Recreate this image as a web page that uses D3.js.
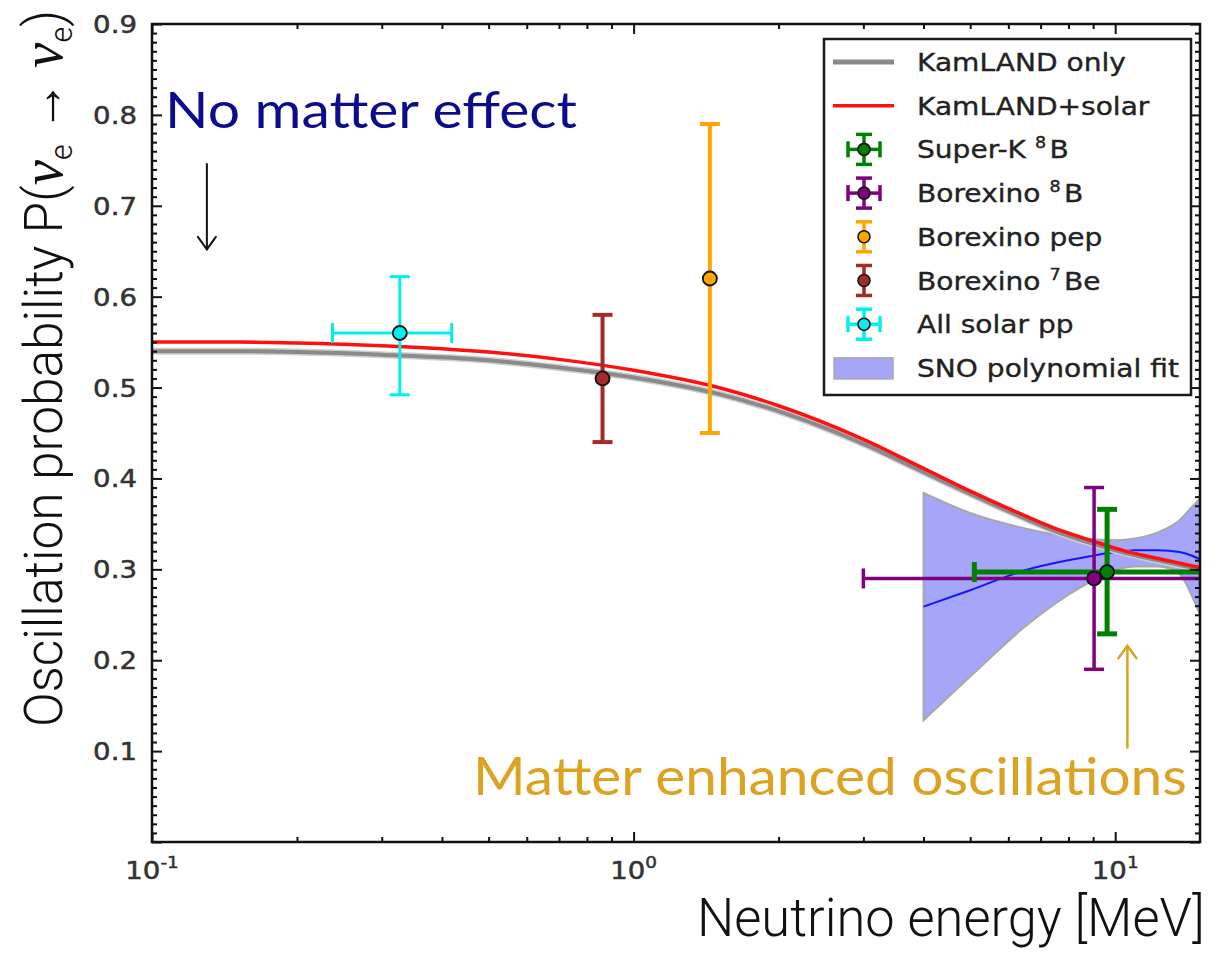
<!DOCTYPE html>
<html>
<head>
<meta charset="utf-8">
<script src="https://cdn.jsdelivr.net/npm/d3@7"></script>
<style>
  body { margin: 0; background: #fff; }
  svg { display: block; }
</style>
</head>
<body>
<svg id="chart" width="1231" height="953"></svg>
<script>
// ---- data (energies in MeV, probabilities P(nu_e -> nu_e)) ----
const curveEnergy   = [0.1, 0.15, 0.2, 0.3, 0.5, 0.7, 1.0, 1.5, 2.0, 3.0, 4.0, 5.0, 6.0, 7.5, 9.0, 10.5, 12.0, 15.0];
const kamlandSolar  = [0.550, 0.550, 0.549, 0.546, 0.539, 0.531, 0.519, 0.500, 0.480, 0.443, 0.411, 0.386, 0.367, 0.345, 0.331, 0.320, 0.313, 0.302];
const kamlandOnly   = [0.540, 0.540, 0.539, 0.536, 0.530, 0.522, 0.511, 0.493, 0.474, 0.438, 0.407, 0.383, 0.364, 0.342, 0.328, 0.318, 0.311, 0.300];

const snoEnergy  = [4.0, 5.0, 6.5, 8.0, 9.0, 10.0, 11.0, 12.3, 13.6, 14.45, 15.0];
const snoUpper   = [0.384, 0.362, 0.345, 0.336, 0.333, 0.332, 0.334, 0.341, 0.354, 0.369, 0.378];
const snoLower   = [0.134, 0.182, 0.237, 0.272, 0.288, 0.299, 0.303, 0.303, 0.295, 0.270, 0.250];
const snoCentral = [0.259, 0.277, 0.299, 0.310, 0.315, 0.319, 0.321, 0.321, 0.319, 0.315, 0.311];

const pointNames      = ["All solar pp", "Borexino 7Be", "Borexino pep", "Borexino 8B", "Super-K 8B"];
const pointEnergy     = [0.327, 0.862, 1.44, 9.04, 9.62];
const pointProb       = [0.560, 0.510, 0.620, 0.290, 0.297];
const pointErrLow     = [0.068, 0.070, 0.170, 0.100, 0.068];
const pointErrHigh    = [0.062, 0.070, 0.170, 0.100, 0.069];
const pointEnergyLow  = [0.237, null, null, 3.0, 5.1];
const pointEnergyHigh = [0.419, null, null, 20.0, 20.0];
const pointColors     = ["#00f0f0", "#a52a2a", "#ffa500", "#800080", "#008000"];
const pointWidths     = [3, 4, 4, 3.5, 5];

const yMajorTicks  = [0, 0.1, 0.2, 0.3, 0.4, 0.5, 0.6, 0.7, 0.8, 0.9];
const yTickLabels  = ["", "0.1", "0.2", "0.3", "0.4", "0.5", "0.6", "0.7", "0.8", "0.9"];
const xMajorTicks  = [0.1, 1, 10];
const xTickExponents = ["-1", "0", "1"];

const legendLabels = ["KamLAND only", "KamLAND+solar", "Super-K {8}B", "Borexino {8}B",
                      "Borexino pep", "Borexino {7}Be", "All solar pp", "SNO polynomial fit"];
const legendKinds  = ["line", "line", "errxy", "errxy", "erry", "erry", "errxy", "patch"];
const legendColors = ["#8a8a8a", "#ff1010", "#008000", "#800080", "#ffa500", "#a52a2a", "#00f0f0", "#a6a6f8"];

// annotation arrows, in data units
const arrowNoMatter = {e: 0.130, from: 0.746, to: 0.652};
const arrowMatter   = {e: 10.6, from: 0.104, to: 0.216};

// ---- layout ----
const plot = {left: 152, right: 1200, top: 24, bottom: 842};
const svg = d3.select("#chart");

const x = d3.scaleLog().domain([0.1, 15]).range([plot.left, plot.right]);
const y = d3.scaleLinear().domain([0, 0.9]).range([plot.bottom, plot.top]);

svg.append("defs").append("clipPath").attr("id", "plotclip")
  .append("rect")
  .attr("x", plot.left).attr("y", plot.top)
  .attr("width", plot.right - plot.left).attr("height", plot.bottom - plot.top);

const g = svg.append("g").attr("clip-path", "url(#plotclip)");

// SNO band
const sno = snoEnergy.map((e, i) => ({e, lo: snoLower[i], hi: snoUpper[i], c: snoCentral[i]}));
g.append("path")
  .datum(sno)
  .attr("d", d3.area().x(d => x(d.e)).y0(d => y(d.lo)).y1(d => y(d.hi)).curve(d3.curveMonotoneX))
  .attr("fill", "#a6a6f8")
  .attr("stroke", "#a8a8a8")
  .attr("stroke-width", 2);

g.append("path")
  .datum(sno)
  .attr("d", d3.line().x(d => x(d.e)).y(d => y(d.c)).curve(d3.curveMonotoneX))
  .attr("fill", "none")
  .attr("stroke", "#1515ff")
  .attr("stroke-width", 2);

// KamLAND curves
const lineGen = d3.line().x(d => x(d.e)).y(d => y(d.p)).curve(d3.curveMonotoneX);
const kOnly = curveEnergy.map((e, i) => ({e, p: kamlandOnly[i]}));
const kSolar = curveEnergy.map((e, i) => ({e, p: kamlandSolar[i]}));

g.append("path").datum(kOnly).attr("d", lineGen)
  .attr("fill", "none").attr("stroke", "#cfcfcf").attr("stroke-width", 7);
g.append("path").datum(kOnly).attr("d", lineGen)
  .attr("fill", "none").attr("stroke", "#8a8a8a").attr("stroke-width", 4);
g.append("path").datum(kSolar).attr("d", lineGen)
  .attr("fill", "none").attr("stroke", "#ff1010").attr("stroke-width", 3.5);

// error bars
const cap = 10;
pointEnergy.forEach((e, i) => {
  const col = pointColors[i], w = pointWidths[i];
  const eb = g.append("g").attr("stroke", col).attr("stroke-width", w).attr("fill", "none");
  const cx = x(e), cy = y(pointProb[i]);
  const yTop = y(pointProb[i] + pointErrHigh[i]), yBot = y(pointProb[i] - pointErrLow[i]);
  eb.append("line").attr("x1", cx).attr("x2", cx).attr("y1", yTop).attr("y2", yBot);
  eb.append("line").attr("x1", cx - cap).attr("x2", cx + cap).attr("y1", yTop).attr("y2", yTop);
  eb.append("line").attr("x1", cx - cap).attr("x2", cx + cap).attr("y1", yBot).attr("y2", yBot);
  if (pointEnergyLow[i] != null) {
    const xl = x(pointEnergyLow[i]), xr = x(pointEnergyHigh[i]);
    eb.append("line").attr("x1", xl).attr("x2", xr).attr("y1", cy).attr("y2", cy);
    eb.append("line").attr("x1", xl).attr("x2", xl).attr("y1", cy - cap).attr("y2", cy + cap);
    eb.append("line").attr("x1", xr).attr("x2", xr).attr("y1", cy - cap).attr("y2", cy + cap);
  }
});
pointEnergy.forEach((e, i) => {
  g.append("circle")
    .attr("cx", x(e)).attr("cy", y(pointProb[i])).attr("r", 7)
    .attr("fill", pointColors[i]).attr("stroke", "#111").attr("stroke-width", 1.8);
});

// ---- axes (inward ticks on all four sides) ----
const yMinor = d3.range(0, 91).filter(i => i % 10 !== 0).map(i => i / 100);
const xMinor = [0.1, 1].flatMap(d => d3.range(2, 10).map(k => k * d));

function styleAxis(sel, w) {
  sel.select(".domain").remove();
  sel.selectAll("line").attr("stroke", "#111").attr("stroke-width", w);
}
svg.append("g").attr("transform", `translate(${plot.left},0)`)
  .call(d3.axisLeft(y).tickValues(yMinor).tickSize(-5).tickFormat(""))
  .call(s => styleAxis(s, 2));
svg.append("g").attr("transform", `translate(${plot.left},0)`)
  .call(d3.axisLeft(y).tickValues(yMajorTicks).tickSize(-10).tickFormat(""))
  .call(s => styleAxis(s, 2));
svg.append("g").attr("transform", `translate(${plot.right},0)`)
  .call(d3.axisRight(y).tickValues(yMinor).tickSize(-5).tickFormat(""))
  .call(s => styleAxis(s, 2));
svg.append("g").attr("transform", `translate(${plot.right},0)`)
  .call(d3.axisRight(y).tickValues(yMajorTicks).tickSize(-10).tickFormat(""))
  .call(s => styleAxis(s, 2));
svg.append("g").attr("transform", `translate(0,${plot.bottom})`)
  .call(d3.axisBottom(x).tickValues(xMinor).tickSize(-5).tickFormat(""))
  .call(s => styleAxis(s, 2));
svg.append("g").attr("transform", `translate(0,${plot.bottom})`)
  .call(d3.axisBottom(x).tickValues(xMajorTicks).tickSize(-10).tickFormat(""))
  .call(s => styleAxis(s, 2));
svg.append("g").attr("transform", `translate(0,${plot.top})`)
  .call(d3.axisTop(x).tickValues(xMinor).tickSize(-5).tickFormat(""))
  .call(s => styleAxis(s, 2));
svg.append("g").attr("transform", `translate(0,${plot.top})`)
  .call(d3.axisTop(x).tickValues(xMajorTicks).tickSize(-10).tickFormat(""))
  .call(s => styleAxis(s, 2));

svg.append("rect")
  .attr("x", plot.left).attr("y", plot.top)
  .attr("width", plot.right - plot.left).attr("height", plot.bottom - plot.top)
  .attr("fill", "none").attr("stroke", "#111").attr("stroke-width", 2.5);

// tick labels (matplotlib-style DejaVu, slightly wide)
const stretch = 1.15;
const tickFont = "DejaVu Sans";
yMajorTicks.forEach((v, i) => {
  if (!yTickLabels[i]) return;
  svg.append("text")
    .attr("transform", `translate(137,${y(v) + 9}) scale(${stretch},1)`)
    .attr("text-anchor", "end")
    .attr("font-family", tickFont).attr("font-size", 24)
    .attr("fill", "#333").attr("stroke", "#333").attr("stroke-width", 0.5)
    .text(yTickLabels[i]);
});
xMajorTicks.forEach((v, i) => {
  const t = svg.append("text")
    .attr("transform", `translate(${x(v)},879) scale(${stretch},1)`)
    .attr("text-anchor", "middle")
    .attr("font-family", tickFont).attr("font-size", 24)
    .attr("fill", "#333").attr("stroke", "#333").attr("stroke-width", 0.5);
  t.append("tspan").text("10");
  t.append("tspan").attr("font-size", 16).attr("dy", -11).text(xTickExponents[i]);
});

// ---- legend ----
const lg = {x: 824, y: 39, w: 367, h: 356, first: 62, step: 43.7, markX: 864, textX: 917};
svg.append("rect")
  .attr("x", lg.x).attr("y", lg.y).attr("width", lg.w).attr("height", lg.h)
  .attr("fill", "#fff").attr("stroke", "#1a1a1a").attr("stroke-width", 2.5);

legendLabels.forEach((label, i) => {
  const cy = lg.first + i * lg.step;
  const kind = legendKinds[i], col = legendColors[i];
  const m = svg.append("g");
  if (kind === "line") {
    m.append("line").attr("x1", 833).attr("x2", 894).attr("y1", cy).attr("y2", cy)
      .attr("stroke", col).attr("stroke-width", i === 0 ? 5 : 3.5);
  } else if (kind === "patch") {
    m.append("rect").attr("x", 834).attr("y", cy - 10).attr("width", 59).attr("height", 21)
      .attr("fill", col).attr("stroke", "#a8a8a8").attr("stroke-width", 1.5);
  } else {
    const eg = m.append("g").attr("stroke", col).attr("stroke-width", 3.5);
    const cx = lg.markX;
    eg.append("line").attr("x1", cx).attr("x2", cx).attr("y1", cy - 15).attr("y2", cy + 15);
    eg.append("line").attr("x1", cx - 8).attr("x2", cx + 8).attr("y1", cy - 15).attr("y2", cy - 15);
    eg.append("line").attr("x1", cx - 8).attr("x2", cx + 8).attr("y1", cy + 15).attr("y2", cy + 15);
    if (kind === "errxy") {
      eg.append("line").attr("x1", cx - 16).attr("x2", cx + 16).attr("y1", cy).attr("y2", cy);
      eg.append("line").attr("x1", cx - 16).attr("x2", cx - 16).attr("y1", cy - 8).attr("y2", cy + 8);
      eg.append("line").attr("x1", cx + 16).attr("x2", cx + 16).attr("y1", cy - 8).attr("y2", cy + 8);
    }
    m.append("circle").attr("cx", cx).attr("cy", cy).attr("r", 6)
      .attr("fill", col).attr("stroke", "#111").attr("stroke-width", 1.6);
  }
  const t = svg.append("text")
    .attr("transform", `translate(${lg.textX},${cy + 9}) scale(1.17,1)`)
    .attr("font-family", tickFont).attr("font-size", 24)
    .attr("fill", "#222").attr("stroke", "#222").attr("stroke-width", 0.35);
  let lift = 0;
  label.split(/(\{[^}]+\})/).filter(s => s.length).forEach(part => {
    if (part.startsWith("{")) {
      t.append("tspan").attr("font-size", 15).attr("dy", -10).text(part.slice(1, -1));
      lift = 10;
    } else {
      t.append("tspan").attr("dy", lift).attr("dx", lift ? 3 : 0).text(part);
      lift = 0;
    }
  });
});

// ---- annotations ----
function fitX(sel, tx, ty, targetWidth, rotate) {
  const w = sel.node().getComputedTextLength();
  const s = targetWidth / w;
  sel.attr("transform", `translate(${tx},${ty})${rotate ? " rotate(-90)" : ""} scale(${s},1)`);
}

const noMatter = svg.append("text")
  .attr("font-family", "Lato, 'Open Sans', sans-serif").attr("font-size", 50)
  .attr("fill", "#0c0c8c").text("No matter effect");
fitX(noMatter, 165, 128, 412);

const matterEnh = svg.append("text")
  .attr("font-family", "Lato, 'Open Sans', sans-serif").attr("font-size", 53)
  .attr("fill", "#dba321").text("Matter enhanced oscillations");
fitX(matterEnh, 473, 795, 714);

function arrow(a, color, width, head) {
  const ax = x(a.e), y1 = y(a.from), y2 = y(a.to);
  const dir = y2 > y1 ? -1 : 1;
  const ag = svg.append("g").attr("stroke", color).attr("stroke-width", width)
    .attr("fill", "none").attr("stroke-linecap", "round").attr("stroke-linejoin", "round");
  ag.append("line").attr("x1", ax).attr("x2", ax).attr("y1", y1).attr("y2", y2);
  ag.append("path").attr("d", `M${ax - head},${y2 + dir * head * 1.4} L${ax},${y2} L${ax + head},${y2 + dir * head * 1.4}`);
}
arrow(arrowNoMatter, "#111", 2, 9);
arrow(arrowMatter, "#dba321", 2.5, 9);

// axis titles
const xTitle = svg.append("text")
  .attr("font-family", "Roboto, 'Open Sans', sans-serif").attr("font-weight", 300)
  .attr("font-size", 54).attr("fill", "#111").text("Neutrino energy [MeV]");
fitX(xTitle, 697, 936, 508);

const yTitle = svg.append("text")
  .attr("font-family", "Roboto, 'Open Sans', sans-serif").attr("font-weight", 300)
  .attr("font-size", 54).attr("fill", "#111");
yTitle.append("tspan").text("Oscillation probability P(");
yTitle.append("tspan").attr("font-family", "'Liberation Serif', serif").attr("font-style", "italic").attr("font-size", 60).text("ν");
yTitle.append("tspan").attr("font-size", 32).attr("dy", 10).text("e");
yTitle.append("tspan").attr("dy", -10).text(" → ");
yTitle.append("tspan").attr("font-family", "'Liberation Serif', serif").attr("font-style", "italic").attr("font-size", 60).text("ν");
yTitle.append("tspan").attr("font-size", 32).attr("dy", 10).text("e");
yTitle.append("tspan").attr("dy", -10).text(")");
fitX(yTitle, 62, 727, 717, true);
</script>
</body>
</html>
